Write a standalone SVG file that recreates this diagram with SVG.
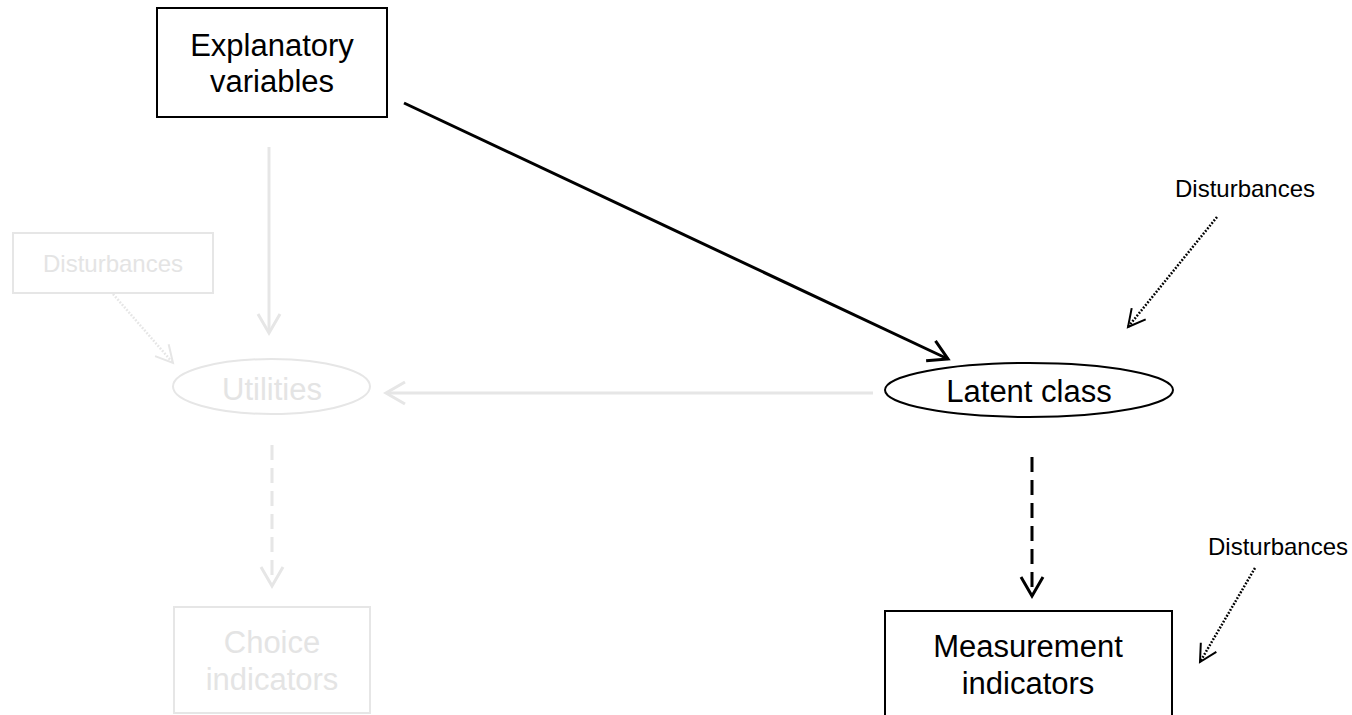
<svg xmlns="http://www.w3.org/2000/svg" width="1352" height="715" viewBox="0 0 1352 715">
  <style>
    .lbl { font-family: "Liberation Sans", Arial, sans-serif; text-anchor: middle; }
    .big { font-size: 31px; }
    .small { font-size: 24px; }
    .ink { fill: #000; }
    .faint { fill: #e4e4e4; }
    .box { fill: #fff; stroke: #000; stroke-width: 2; }
    .box-faint { fill: #fff; stroke: #e6e6e6; stroke-width: 2; }
    .edge { fill: none; stroke-width: 3; }
    .solid-k { stroke: #000; marker-end: url(#head-k); }
    .solid-g { stroke: #e6e6e6; marker-end: url(#head-g); }
    .dash-k { stroke: #000; stroke-dasharray: 15 8; marker-end: url(#head-k); }
    .dash-g { stroke: #e6e6e6; stroke-dasharray: 15 8; marker-end: url(#head-g); }
    .dot-k { stroke: #000; stroke-width: 2.5; stroke-dasharray: 1.8 1.6; marker-end: url(#head-k-thin); }
    .dot-g { stroke: #e6e6e6; stroke-width: 2.5; stroke-dasharray: 1.8 1.6; marker-end: url(#head-g-thin); }
  </style>
  <defs>
    <marker id="head-k" viewBox="-24 -14 28 28" refX="0" refY="0" markerWidth="28" markerHeight="28" markerUnits="userSpaceOnUse" orient="auto">
      <path d="M-19,-11 L0,0 L-19,11" fill="none" stroke="#000" stroke-width="3"/>
    </marker>
    <marker id="head-g" viewBox="-24 -14 28 28" refX="0" refY="0" markerWidth="28" markerHeight="28" markerUnits="userSpaceOnUse" orient="auto">
      <path d="M-19,-11 L0,0 L-19,11" fill="none" stroke="#e6e6e6" stroke-width="3"/>
    </marker>
    <marker id="head-k-thin" viewBox="-24 -14 28 28" refX="0" refY="0" markerWidth="28" markerHeight="28" markerUnits="userSpaceOnUse" orient="auto">
      <path d="M-17,-9 L0,0 L-17,9" fill="none" stroke="#000" stroke-width="2"/>
    </marker>
    <marker id="head-g-thin" viewBox="-24 -14 28 28" refX="0" refY="0" markerWidth="28" markerHeight="28" markerUnits="userSpaceOnUse" orient="auto">
      <path d="M-17,-9 L0,0 L-17,9" fill="none" stroke="#e6e6e6" stroke-width="2"/>
    </marker>
  </defs>

  <rect width="1352" height="715" fill="#fff"/>

  <!-- connectors -->
  <g id="connectors" class="edge">
    <line class="edge solid-k" x1="404" y1="103" x2="948" y2="359"/>
    <line class="edge solid-g" x1="269" y1="147" x2="269" y2="333"/>
    <line class="edge solid-g" x1="873" y1="393" x2="386" y2="393"/>
    <line class="edge dash-k" x1="1032" y1="457" x2="1032" y2="596"/>
    <line class="edge dash-g" x1="272" y1="445" x2="272" y2="586"/>
    <line class="edge dot-k" x1="1217" y1="217" x2="1128" y2="327"/>
    <line class="edge dot-k" x1="1255" y1="568" x2="1200" y2="662"/>
    <line class="edge dot-g" x1="113" y1="294" x2="173" y2="363"/>
  </g>

  <!-- nodes -->
  <g id="explanatory">
    <rect class="box" x="157" y="8" width="230" height="109"/>
    <text class="lbl big ink" x="272" y="56">Explanatory</text>
    <text class="lbl big ink" x="272" y="92">variables</text>
  </g>

  <g id="latent-class">
    <ellipse class="box" cx="1029" cy="390" rx="144" ry="27"/>
    <text class="lbl big ink" x="1029" y="402">Latent class</text>
  </g>

  <g id="utilities">
    <ellipse class="box-faint" cx="271.5" cy="386.5" rx="98.5" ry="27.5"/>
    <text class="lbl big faint" x="272" y="400">Utilities</text>
  </g>

  <g id="disturbances-utilities">
    <rect class="box-faint" x="13" y="233" width="200" height="60"/>
    <text class="lbl small faint" x="113" y="272">Disturbances</text>
  </g>

  <g id="choice-indicators">
    <rect class="box-faint" x="174" y="607" width="196" height="106"/>
    <text class="lbl big faint" x="272" y="653">Choice</text>
    <text class="lbl big faint" x="272" y="690">indicators</text>
  </g>

  <g id="measurement-indicators">
    <rect class="box" x="885" y="611" width="287" height="112"/>
    <text class="lbl big ink" x="1028" y="657">Measurement</text>
    <text class="lbl big ink" x="1028" y="694">indicators</text>
  </g>

  <g id="disturbances-class">
    <text class="lbl small ink" x="1245" y="197">Disturbances</text>
  </g>

  <g id="disturbances-indicators">
    <text class="lbl small ink" x="1278" y="555">Disturbances</text>
  </g>
</svg>
